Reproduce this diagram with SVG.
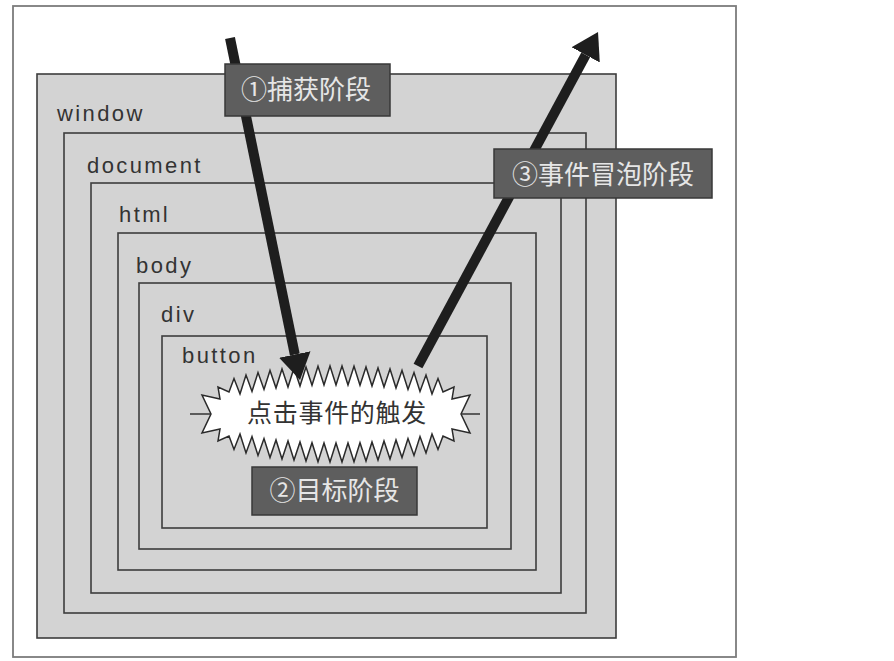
<svg xmlns="http://www.w3.org/2000/svg" width="894" height="661" viewBox="0 0 894 661">
<style>
.frame{fill:#ffffff;stroke:#7c7c7c;stroke-width:1.8}
.box{fill:#d3d3d3;stroke:#3d3d3d;stroke-width:1.6}
.name{font-family:'Liberation Sans',Arial,sans-serif;font-size:22px;letter-spacing:2.4px;fill:#333333}
.tag{fill:#5e5e5e;stroke:#383838;stroke-width:1.5}
.tagtxt{font-family:'Noto Sans CJK SC','Noto Sans CJK JP',sans-serif;font-size:26px;fill:#e6e6e6;text-anchor:middle}
.arrow{fill:none;stroke:#1e1e1e;stroke-width:10;stroke-linecap:butt;marker-end:url(#head)}
.burst{fill:#ffffff;stroke:#2a2a2a;stroke-width:1.5;stroke-linejoin:miter}
.bursttxt{font-family:'Noto Sans CJK SC','Noto Sans CJK JP',sans-serif;font-size:25px;fill:#333333;text-anchor:middle;letter-spacing:0.7px}
</style>
<defs>
<marker id="head" markerUnits="userSpaceOnUse" viewBox="0 -16 26 32" markerWidth="26" markerHeight="32" refX="0" refY="0" orient="auto">
<path d="M0,-16 L26,0 L0,16 Z" fill="#1e1e1e"/>
</marker>
</defs>
<rect class="frame" x="13" y="6" width="723" height="651"/>
<g id="window"><rect class="box" x="37" y="74" width="579" height="564"/><text class="name" x="57" y="121">window</text></g>
<g id="document"><rect class="box" x="64" y="133" width="522" height="480"/><text class="name" x="87" y="173">document</text></g>
<g id="html"><rect class="box" x="91" y="183" width="470" height="410"/><text class="name" x="119" y="222">html</text></g>
<g id="body"><rect class="box" x="118" y="233" width="418" height="337"/><text class="name" x="136" y="273">body</text></g>
<g id="div"><rect class="box" x="139" y="283" width="372" height="266"/><text class="name" x="161" y="322">div</text></g>
<g id="button"><rect class="box" x="162" y="336" width="325" height="192"/><text class="name" x="182" y="363">button</text></g>
<g id="click-event">
<line x1="190" y1="414" x2="480" y2="414" stroke="#333333" stroke-width="1.5"/>
<polygon class="burst" points="336,385 342,366 348,385 354,366.3 360,385.3 366,367 372,386 378,368 384,387 390,369 396,388 402,370.5 408,389.5 414,372.5 420,391.5 426,375 432,394 438,378.5 443,392 454,387 452,399 470,395 461,414 470,433 452,429 454,441 443,436 438,449.5 432,434 426,453 420,436.5 414,455.5 408,438.5 402,457.5 396,440 390,459 384,441 378,460 372,442 366,461 360,442.7 354,461.7 348,443 342,462 336,443 330,462 324,443 318,461.7 312,442.7 306,461 300,442 294,460 288,441 282,459 276,440 270,457.5 264,438.5 258,455.5 252,436.5 246,453 240,434 234,449.5 229,436 218,441 220,429 202,433 211,414 202,395 220,399 218,387 229,392 234,378.5 240,394 246,375 252,391.5 258,372.5 264,389.5 270,370.5 276,388 282,369 288,387 294,368 300,386 306,367 312,385.3 318,366.3 324,385 330,366"/>
<text class="bursttxt" x="337" y="422">点击事件的触发</text>
</g>
<g id="connectors">
<line class="arrow" x1="230" y1="38" x2="294.8" y2="354.5"/>
<line class="arrow" x1="418" y1="366" x2="585.7" y2="54.9"/>
</g>
<g id="capture-phase"><rect class="tag" x="225" y="64" width="165" height="52"/><text class="tagtxt" x="306" y="99">①捕获阶段</text></g>
<g id="bubble-phase"><rect class="tag" x="494" y="149" width="218" height="49"/><text class="tagtxt" x="603" y="184">③事件冒泡阶段</text></g>
<g id="target-phase"><rect class="tag" x="252" y="467" width="165" height="48"/><text class="tagtxt" x="334.5" y="500">②目标阶段</text></g>
</svg>
